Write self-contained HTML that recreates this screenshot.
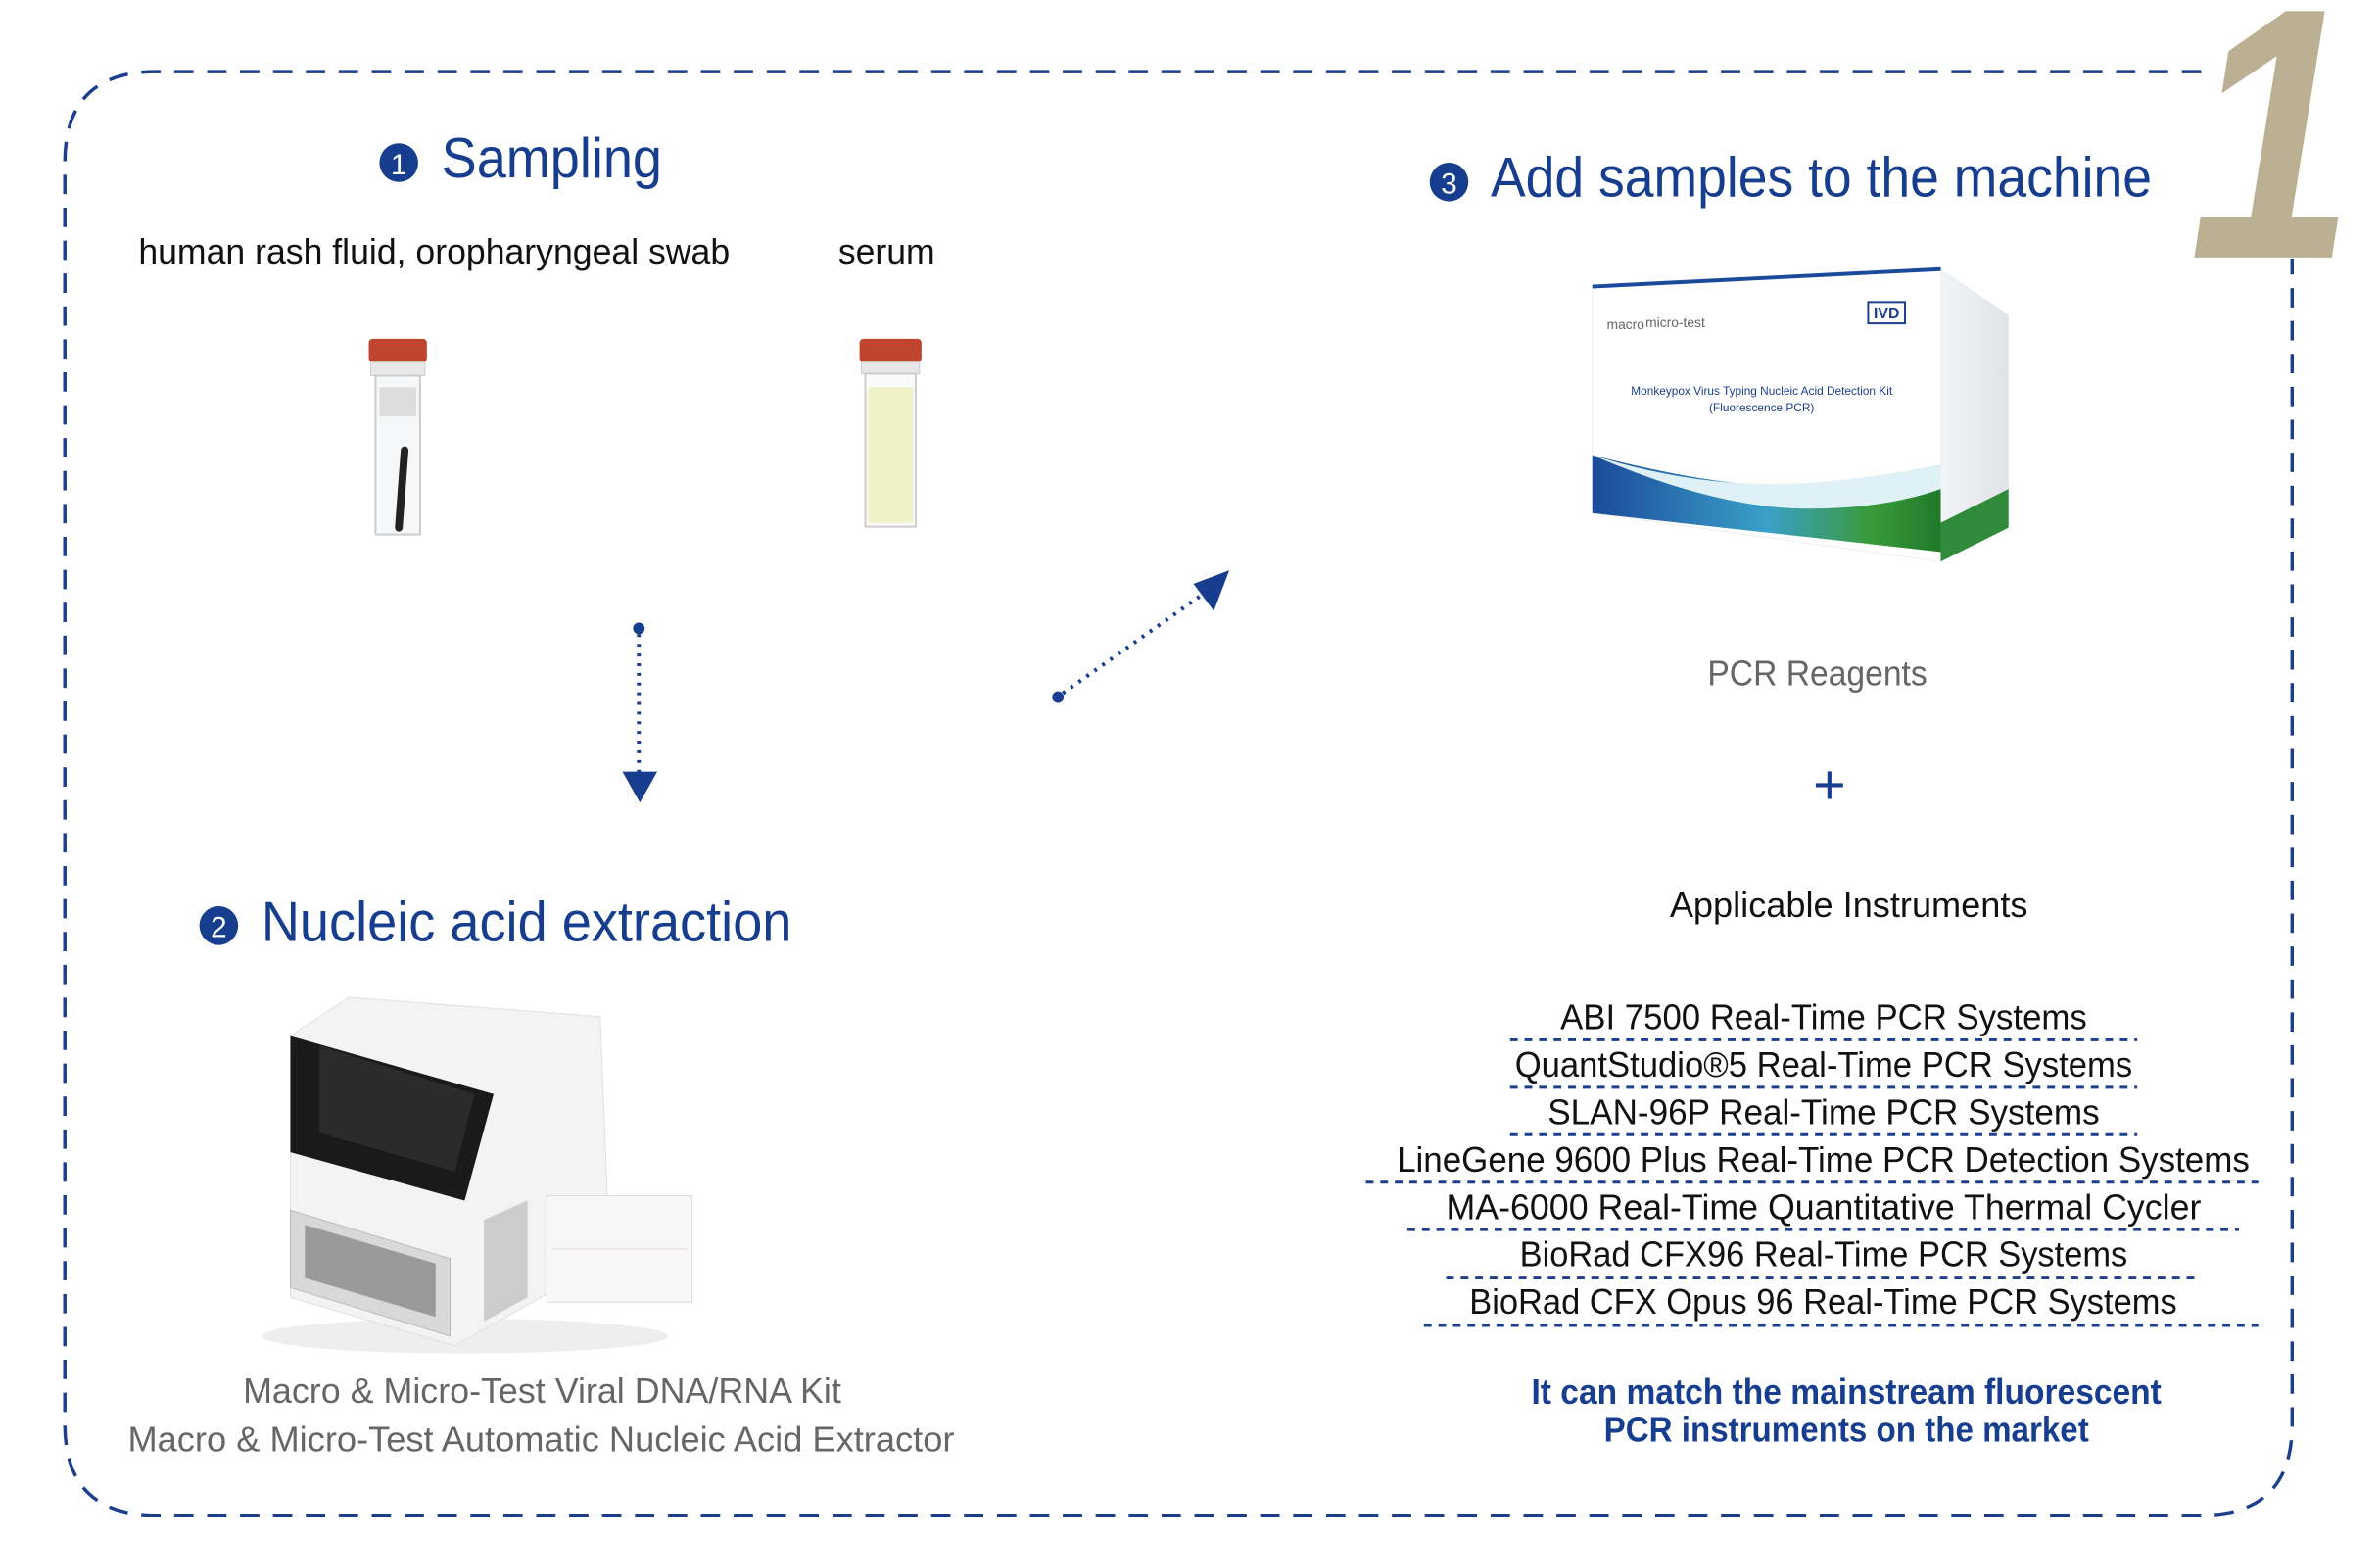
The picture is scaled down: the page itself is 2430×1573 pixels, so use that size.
<!DOCTYPE html>
<html><head><meta charset="utf-8"><style>
html,body{margin:0;padding:0;background:#fff;}
svg{display:block;}
text{font-family:"Liberation Sans Narrow","Liberation Sans",sans-serif;}
</style></head><body>
<svg width="2430" height="1573" viewBox="0 0 2430 1573" xmlns="http://www.w3.org/2000/svg">
<defs>
<linearGradient id="wave" x1="0" x2="1" y1="0" y2="0">
<stop offset="0" stop-color="#1b4a9a"/><stop offset="0.5" stop-color="#3aa0c8"/><stop offset="0.8" stop-color="#3a9a3a"/><stop offset="1" stop-color="#1f7a2a"/></linearGradient>
<linearGradient id="side" x1="0" x2="1"><stop offset="0" stop-color="#f2f4f7"/><stop offset="1" stop-color="#dfe3e8"/></linearGradient>
</defs>
<g transform="scale(0.9883)">
<text x="2262" y="266" font-family="Liberation Sans" font-weight="bold" font-style="italic" font-size="370" fill="#bcb092" textLength="170" lengthAdjust="spacingAndGlyphs">1</text>
<path d="M2274 74 L161 74 Q67 74 67 168 L67 1471 Q67 1565 161 1565 L2274 1565 Q2368 1565 2368 1471 L2368 267" fill="none" stroke="#1c3f8c" stroke-width="3.5" stroke-dasharray="20 14"/>
<circle cx="412" cy="168" r="20" fill="#173e8e"/>
<text x="412" y="180" font-size="30" fill="#fff" text-anchor="middle" font-family="Liberation Sans">1</text>
<text x="456" y="183" font-size="58" fill="#173e8e" textLength="228" lengthAdjust="spacingAndGlyphs">Sampling</text>
<text x="143" y="272" font-size="37" fill="#111" textLength="611" lengthAdjust="spacingAndGlyphs">human rash fluid, oropharyngeal swab</text>
<text x="866" y="272" font-size="37" fill="#111" textLength="100" lengthAdjust="spacingAndGlyphs">serum</text>
<rect x="381" y="350" width="60" height="24" rx="4" fill="#c0452e"/>
<rect x="383" y="374" width="56" height="14" fill="#e8e8e8" stroke="#ccc"/>
<rect x="388" y="388" width="46" height="164" fill="#f6f7f8" stroke="#ccc" stroke-width="2"/>
<rect x="392" y="400" width="38" height="30" fill="#ddd"/>
<path d="M418 465 L412 545" stroke="#222" stroke-width="8" stroke-linecap="round"/>
<rect x="888" y="350" width="64" height="24" rx="4" fill="#c0452e"/>
<rect x="890" y="374" width="60" height="12" fill="#e6e6e6" stroke="#ccc"/>
<rect x="894" y="386" width="52" height="158" fill="#fafafa" stroke="#ccc" stroke-width="2"/>
<rect x="897" y="400" width="46" height="140" fill="#eff2c6"/>
<circle cx="660" cy="649" r="6" fill="#173e8e"/>
<line x1="660" y1="655" x2="660" y2="798" stroke="#173e8e" stroke-width="4" stroke-dasharray="3 7"/>
<polygon points="643,797 679,797 661,829" fill="#173e8e"/>
<circle cx="1093" cy="720" r="6" fill="#173e8e"/>
<line x1="1098" y1="716" x2="1245" y2="612" stroke="#173e8e" stroke-width="4" stroke-dasharray="3 7"/>
<polygon points="1270,589 1254,631 1233,603" fill="#173e8e"/>
<circle cx="226" cy="956" r="20" fill="#173e8e"/>
<text x="226" y="968" font-size="30" fill="#fff" text-anchor="middle" font-family="Liberation Sans">2</text>
<text x="270" y="972" font-size="58" fill="#173e8e" textLength="548" lengthAdjust="spacingAndGlyphs">Nucleic acid extraction</text>
<ellipse cx="480" cy="1380" rx="210" ry="18" fill="#eee"/>
<path d="M300 1070 L360 1030 L620 1050 L630 1300 L470 1390 L300 1340 Z" fill="#f3f3f3" stroke="#e0e0e0"/>
<path d="M300 1070 L300 1190 L480 1240 L510 1130 Z" fill="#1a1a1a"/>
<path d="M330 1080 L330 1170 L470 1210 L490 1130 Z" fill="#2b2b2b"/>
<path d="M300 1250 L465 1300 L465 1380 L300 1330 Z" fill="#d8d8d8" stroke="#bbb"/>
<path d="M315 1265 L450 1305 L450 1360 L315 1320 Z" fill="#9a9a9a"/>
<path d="M500 1260 L545 1240 L545 1340 L500 1365 Z" fill="#ccc"/>
<rect x="565" y="1235" width="150" height="110" fill="#f7f7f7" stroke="#ddd"/>
<line x1="570" y1="1290" x2="710" y2="1290" stroke="#e5d6d0"/>
<text x="251" y="1449" font-size="37" fill="#666" textLength="618" lengthAdjust="spacingAndGlyphs">Macro &amp; Micro-Test Viral DNA/RNA Kit</text>
<text x="132" y="1499" font-size="37" fill="#666" textLength="854" lengthAdjust="spacingAndGlyphs">Macro &amp; Micro-Test Automatic Nucleic Acid Extractor</text>
<circle cx="1497" cy="188" r="20" fill="#173e8e"/>
<text x="1497" y="200" font-size="30" fill="#fff" text-anchor="middle" font-family="Liberation Sans">3</text>
<text x="1540" y="203" font-size="58" fill="#173e8e" textLength="683" lengthAdjust="spacingAndGlyphs">Add samples to the machine</text>
<path d="M1645 296 L2005 278 L2005 580 L1645 530 Z" fill="#fff" stroke="#eee"/>
<path d="M1645 470 Q1800 510 1880 500 Q1960 490 2005 480 L2005 570 L1645 530 Z" fill="url(#wave)"/>
<path d="M1645 470 Q1760 520 1850 525 Q1940 528 2005 505 L2005 480 Q1900 500 1830 500 Q1740 500 1645 470 Z" fill="#dff1f6"/>
<path d="M2005 278 L2075 325 L2075 545 L2005 580 Z" fill="url(#side)"/>
<path d="M2005 540 L2075 505 L2075 545 L2005 580 Z" fill="#2f8a3a"/>
<line x1="1645" y1="296" x2="2005" y2="278" stroke="#1b4a9a" stroke-width="4"/>
<text x="1660" y="340" font-size="14" fill="#666" font-family="Liberation Sans">macro</text><text x="1700" y="338" font-size="14" fill="#666" font-family="Liberation Sans">micro-test</text>
<rect x="1930" y="312" width="38" height="22" fill="none" stroke="#1b3f8a" stroke-width="2"/>
<text x="1949" y="329" font-size="16" fill="#1b3f8a" text-anchor="middle" font-family="Liberation Sans" font-weight="bold">IVD</text>
<text x="1820" y="408" font-size="12" fill="#1b3f8a" text-anchor="middle" font-family="Liberation Sans">Monkeypox Virus Typing Nucleic Acid Detection Kit</text>
<text x="1820" y="425" font-size="12" fill="#1b3f8a" text-anchor="middle" font-family="Liberation Sans">(Fluorescence PCR)</text>
<text x="1764" y="708" font-size="37" fill="#666" textLength="227" lengthAdjust="spacingAndGlyphs">PCR Reagents</text>
<text x="1890" y="830" font-size="58" fill="#173e8e" text-anchor="middle" font-family="Liberation Sans">+</text>
<text x="1725" y="947" font-size="37" fill="#111" textLength="370" lengthAdjust="spacingAndGlyphs">Applicable Instruments</text>
<g font-size="37" fill="#111">
<text x="1612" y="1063" textLength="544" lengthAdjust="spacingAndGlyphs">ABI 7500 Real-Time PCR Systems</text>
<text x="1565" y="1112" textLength="638" lengthAdjust="spacingAndGlyphs">QuantStudio®5 Real-Time PCR Systems</text>
<text x="1599" y="1161" textLength="570" lengthAdjust="spacingAndGlyphs">SLAN-96P Real-Time PCR Systems</text>
<text x="1443" y="1210" textLength="881" lengthAdjust="spacingAndGlyphs">LineGene 9600 Plus Real-Time PCR Detection Systems</text>
<text x="1494" y="1259" textLength="780" lengthAdjust="spacingAndGlyphs">MA-6000 Real-Time Quantitative Thermal Cycler</text>
<text x="1570" y="1308" textLength="628" lengthAdjust="spacingAndGlyphs">BioRad CFX96 Real-Time PCR Systems</text>
<text x="1518" y="1357" textLength="731" lengthAdjust="spacingAndGlyphs">BioRad CFX Opus 96 Real-Time PCR Systems</text>
</g>
<g stroke="#1c3f8c" stroke-width="3" stroke-dasharray="8 7">
<line x1="1560" y1="1074" x2="2208" y2="1074"/>
<line x1="1560" y1="1123" x2="2208" y2="1123"/>
<line x1="1560" y1="1172" x2="2208" y2="1172"/>
<line x1="1411" y1="1221" x2="2333" y2="1221"/>
<line x1="1454" y1="1270" x2="2313" y2="1270"/>
<line x1="1494" y1="1320" x2="2272" y2="1320"/>
<line x1="1471" y1="1369" x2="2333" y2="1369"/>
</g>
<text x="1582" y="1450" font-size="37" font-weight="bold" fill="#173e8e" textLength="651" lengthAdjust="spacingAndGlyphs">It can match the mainstream fluorescent</text>
<text x="1657" y="1489" font-size="37" font-weight="bold" fill="#173e8e" textLength="501" lengthAdjust="spacingAndGlyphs">PCR instruments on the market</text>
</g>
</svg>
</body></html>
